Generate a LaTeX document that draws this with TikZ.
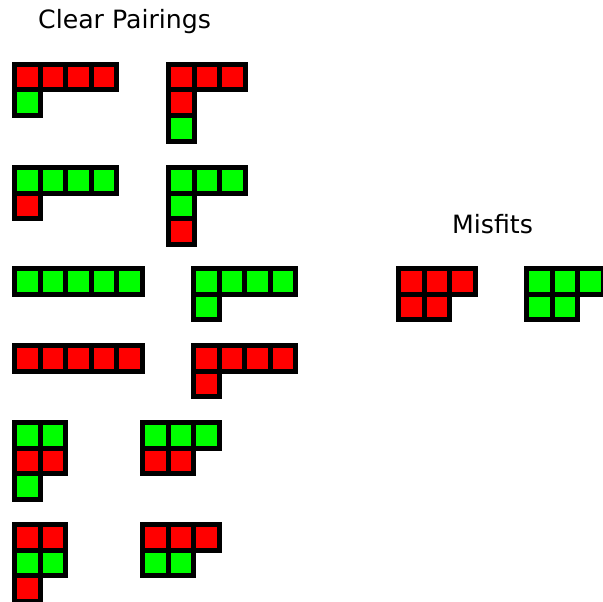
\documentclass[tikz,border=0pt]{standalone}
\usepackage{fontspec}
\setmainfont{DejaVu Sans}
\definecolor{cred}{RGB}{255,0,0}
\definecolor{cgreen}{RGB}{0,255,0}
\tikzset{
  cell/.style={draw=black, line width=5pt},
  title/.style={font=\fontsize{25.2}{29}\selectfont, inner sep=0pt, anchor=base west}
}
% \piece{left}{top}{list of i/j/colour}
\newcommand{\piece}[3]{%
  \foreach \i/\j/\c in {#3} {
    \path[cell, fill=\c] ({#1+2.5+\i*25.5}, {-(#2+2.5+\j*25.5)}) rectangle ++(25.5,-25.5);
  }%
}
\begin{document}
\begin{tikzpicture}[x=1pt,y=1pt]
\path[use as bounding box, clip] (0,0) rectangle (603,-602);
\node[title] (t1) at (38,-29) {Clear Pairings};
\node[title] (t2) at (452,-233) {Misfits};
% row 1
\piece{12}{62}{0/0/cred,1/0/cred,2/0/cred,3/0/cred,0/1/cgreen}
\piece{166}{62}{0/0/cred,1/0/cred,2/0/cred,0/1/cred,0/2/cgreen}
% row 2
\piece{12}{165}{0/0/cgreen,1/0/cgreen,2/0/cgreen,3/0/cgreen,0/1/cred}
\piece{166}{165}{0/0/cgreen,1/0/cgreen,2/0/cgreen,0/1/cgreen,0/2/cred}
% row 3
\piece{12}{266}{0/0/cgreen,1/0/cgreen,2/0/cgreen,3/0/cgreen,4/0/cgreen}
\piece{191}{266}{0/0/cgreen,1/0/cgreen,2/0/cgreen,3/0/cgreen,0/1/cgreen}
% row 4
\piece{12}{343}{0/0/cred,1/0/cred,2/0/cred,3/0/cred,4/0/cred}
\piece{191}{343}{0/0/cred,1/0/cred,2/0/cred,3/0/cred,0/1/cred}
% row 5
\piece{12}{420}{0/0/cgreen,1/0/cgreen,0/1/cred,1/1/cred,0/2/cgreen}
\piece{140}{420}{0/0/cgreen,1/0/cgreen,2/0/cgreen,0/1/cred,1/1/cred}
% row 6
\piece{12}{522}{0/0/cred,1/0/cred,0/1/cgreen,1/1/cgreen,0/2/cred}
\piece{140}{522}{0/0/cred,1/0/cred,2/0/cred,0/1/cgreen,1/1/cgreen}
% misfits
\piece{396}{266}{0/0/cred,1/0/cred,2/0/cred,0/1/cred,1/1/cred}
\piece{524}{266}{0/0/cgreen,1/0/cgreen,2/0/cgreen,0/1/cgreen,1/1/cgreen}
\end{tikzpicture}
\end{document}
